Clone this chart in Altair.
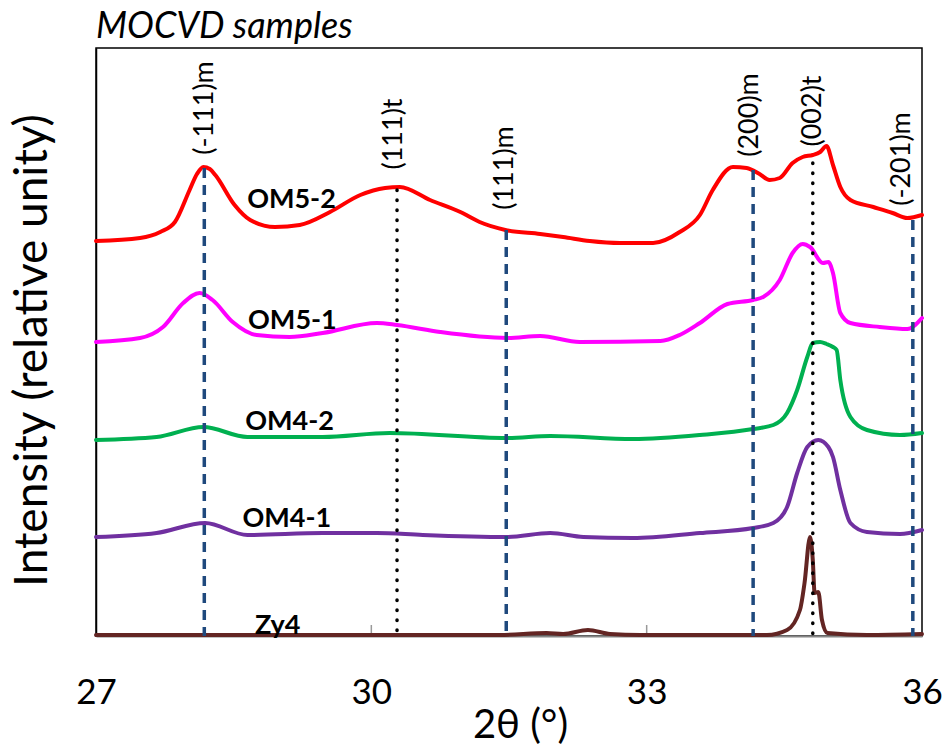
import altair as alt
import pandas as pd

FONT = "Lato"

# ---- data (2θ in degrees, intensity in plot units, stacked offsets) ----
om52_x = [27.00, 27.48, 27.70, 27.86, 28.02, 28.10, 28.17, 28.24, 28.30, 28.51, 28.68, 28.95, 29.22,
          29.55, 29.88, 30.15, 30.31, 30.64, 30.97, 31.18, 31.46, 31.84, 32.09, 32.38, 32.71, 33.07,
          33.36, 33.58, 33.72, 33.94, 34.09, 34.23, 34.34, 34.45, 34.59, 34.70, 34.81, 34.89, 34.96,
          35.03, 35.11, 35.22, 35.47, 35.68, 35.84, 36.00]
om52_y = [395, 398, 404, 414, 446, 462, 469, 467, 461, 431, 416, 409, 411,
          424, 441, 448, 449, 436, 424, 414, 406, 402, 399, 395, 393, 393,
          404, 421, 446, 469, 468, 462, 456, 458, 473, 479, 481, 484, 490,
          471, 449, 436, 429, 423, 418, 421]

om51_x = [27.00, 27.48, 27.73, 27.95, 28.13, 28.27, 28.49, 28.75, 29.11, 29.47, 30.06, 30.28, 30.75,
          31.48, 31.84, 32.27, 33.15, 33.36, 33.58, 33.88, 34.16, 34.27, 34.45, 34.59, 34.70, 34.78,
          34.92, 34.98, 35.03, 35.11, 35.22, 35.54, 35.84, 36.00]
om51_y = [294, 298, 309, 333, 343, 336, 314, 301, 299, 303, 313, 311, 304,
          298, 300, 294, 295, 301, 313, 332, 336, 339, 356, 383, 392, 389,
          373, 374, 363, 323, 313, 309, 307, 318]

om42_x = [27.00, 27.66, 28.17, 28.65, 29.47, 30.20, 31.48, 31.95, 32.85, 33.58, 34.16, 34.38, 34.53,
          34.64, 34.75, 34.81, 34.89, 34.96, 35.03, 35.07, 35.11, 35.22, 35.40, 35.76, 36.00]
om42_y = [196, 199, 209, 199, 199, 203, 198, 200, 197, 201, 207, 211, 223,
          246, 279, 293, 294, 292, 289, 286, 256, 219, 206, 201, 203]

om41_x = [27.00, 27.66, 28.19, 28.65, 29.47, 30.06, 30.56, 31.48, 31.95, 32.31, 32.85, 33.58, 34.16,
          34.38, 34.53, 34.64, 34.75, 34.87, 34.98, 35.03, 35.11, 35.22, 35.40, 35.76, 36.00]
om41_y = [99, 103, 113, 101, 103, 103, 101, 99, 103, 99, 98, 103, 108,
          113, 129, 163, 189, 196, 189, 179, 146, 113, 104, 102, 106]

zy4_x = [27.00, 31.40, 31.91, 32.09, 32.36, 32.60, 32.93, 34.31, 34.53, 34.67, 34.72, 34.78, 34.81,
         34.83, 34.87, 34.91, 34.97, 35.40, 36.00]
zy4_y = [1, 1, 3, 2, 6, 2, 1, 1, 6, 26, 53, 99, 76,
         43, 44, 16, 3, 1, 2]

sample_names = ["OM5-2", "OM5-1", "OM4-2", "OM4-1", "Zy4"]
sample_colors = ["#FF0000", "#FF00FF", "#00B050", "#7030A0", "#632523"]
sample_label_x = [29.13, 29.14, 29.11, 29.08, 28.98]
sample_label_y = [436, 315, 214, 117, 10]

# reflections
peak_names = ["(-111)m", "(111)t", "(111)m", "(200)m", "(002)t", "(-201)m"]
peak_pos = [28.18, 30.28, 31.47, 34.16, 34.81, 35.90]
peak_top = [468, 446, 406, 466, 473, 416]
peak_phase = ["m", "t", "m", "m", "t", "m"]
peak_label_x = [28.19, 30.25, 31.46, 34.13, 34.81, 35.78]
peak_label_y = [528, 502, 468, 521, 525, 477]

x_ticks = [27, 30, 33, 36]
inner_ticks = [30, 33]

# ---- build tables ----
rows = []
for name, xs, ys in zip(sample_names,
                        [om52_x, om51_x, om42_x, om41_x, zy4_x],
                        [om52_y, om51_y, om42_y, om41_y, zy4_y]):
    for i, (a, b) in enumerate(zip(xs, ys)):
        rows.append({"sample": name, "theta": a, "intensity": b, "order": i})
df = pd.DataFrame(rows)

peaks = pd.DataFrame({"name": peak_names, "pos": peak_pos, "top": peak_top, "phase": peak_phase,
                      "lx": peak_label_x, "ly": peak_label_y})
labels = pd.DataFrame({"sample": sample_names, "x": sample_label_x, "y": sample_label_y})
ticks_df = pd.DataFrame({"t": inner_ticks, "y0": [0, 0], "y1": [11, 11]})

x_scale = alt.Scale(domain=[27, 36], nice=False, zero=False)
y_scale = alt.Scale(domain=[0, 588], nice=False, zero=False)

x_axis = alt.Axis(values=x_ticks, title="2θ (°)", grid=False, ticks=False, tickSize=0,
                  labelFont=FONT, labelFontSize=35, labelColor="black", labelPadding=39,
                  labelFlush=False, labelOverlap=False, format="d",
                  domainColor="#868686", domainWidth=2,
                  titleFont=FONT, titleFontSize=40, titleFontWeight="normal", titleColor="black",
                  titleX=424, titleY=69, titleBaseline="top", titleAlign="center")
y_axis = alt.Axis(labels=False, ticks=False, tickSize=0, grid=False, domainColor="black",
                  domainWidth=1.5, title="Intensity (relative unity)", titleFont=FONT,
                  titleFontSize=46, titleFontWeight="normal", titleColor="black",
                  titleAngle=270, titleX=-64, titleY=302, titleAlign="center",
                  titleBaseline="middle")

lines = alt.Chart(df).mark_line(strokeWidth=4, interpolate="monotone", strokeCap="round",
                                strokeJoin="round").encode(
    x=alt.X("theta:Q", scale=x_scale, axis=x_axis),
    y=alt.Y("intensity:Q", scale=y_scale, axis=y_axis),
    color=alt.Color("sample:N", scale=alt.Scale(domain=sample_names, range=sample_colors), legend=None),
    detail="sample:N",
    order="order:Q",
)

dashed = alt.Chart(peaks).transform_filter(alt.datum.phase == "m").mark_rule(
    color="#1F497D", strokeWidth=3.5, strokeDash=[10, 7]).encode(
    x=alt.X("pos:Q", scale=x_scale), y=alt.Y("top:Q", scale=y_scale), y2=alt.datum(0))

dotted = alt.Chart(peaks).transform_filter(alt.datum.phase == "t").mark_rule(
    color="black", strokeWidth=3.5, strokeDash=[0.5, 9.5], strokeCap="round").encode(
    x=alt.X("pos:Q", scale=x_scale), y=alt.Y("top:Q", scale=y_scale), y2=alt.datum(0))

peak_text = alt.Chart(peaks).mark_text(font=FONT, fontSize=27, angle=270, align="center",
                                       baseline="middle", color="black").encode(
    x=alt.X("lx:Q", scale=x_scale), y=alt.Y("ly:Q", scale=y_scale), text="name:N")

sample_text = alt.Chart(labels).mark_text(font=FONT, fontSize=27, fontWeight="bold", align="center",
                                          baseline="middle", color="black").encode(
    x=alt.X("x:Q", scale=x_scale), y=alt.Y("y:Q", scale=y_scale), text="sample:N")

inner = alt.Chart(ticks_df).mark_rule(color="#999999", strokeWidth=1.5).encode(
    x=alt.X("t:Q", scale=x_scale), y=alt.Y("y0:Q", scale=y_scale), y2="y1:Q")

chart = alt.layer(inner, lines, dashed, dotted, peak_text, sample_text).properties(
    width=826, height=588,
    background="white",
    autosize=alt.AutoSizeParams(type="none"),
    padding={"left": 96, "top": 48, "right": 24, "bottom": 109},
    title=alt.TitleParams("MOCVD samples", anchor="start", frame="group", font=FONT, fontSize=36,
                          fontStyle="italic", fontWeight="normal", color="black", offset=2),
).configure_view(stroke="black", strokeWidth=1.5)

chart.save("out.html", embed_options={"renderer": "svg", "actions": False})
